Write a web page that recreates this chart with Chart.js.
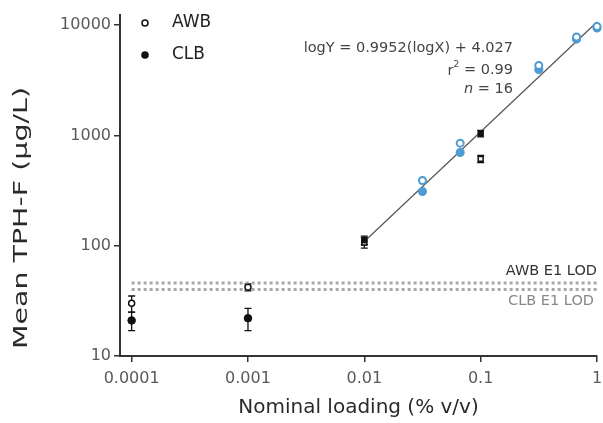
<!DOCTYPE html>
<html><head><meta charset="utf-8">
<script src="https://cdn.jsdelivr.net/npm/chart.js@4.4.0/dist/chart.umd.min.js"></script>
<style>html,body{margin:0;padding:0;background:#fff;}#wrap{width:603px;height:423px;position:relative;}</style>
</head><body><div id="wrap"><canvas id="c" width="603" height="423"></canvas></div>
<script>
// ---- data ----
const xTicks = [0.0001, 0.001, 0.01, 0.1, 1];
const xTickLabels = ['0.0001', '0.001', '0.01', '0.1', '1'];
const yTicks = [10, 100, 1000, 10000];
const yTickLabels = ['10', '100', '1000', '10000'];

// AWB E1 (open black circles)
const awbX = [0.0001, 0.001];
const awbY = [30, 42];
const awbErr = [5, 3];
// CLB E1 (filled black circles)
const clbX = [0.0001, 0.001];
const clbY = [21, 22];
const clbErr = [4, 5];
// AWB open black squares
const awbSqX = [0.01, 0.1];
const awbSqY = [107, 612];
const awbSqErr = [12, 45];
// CLB filled black squares
const clbSqX = [0.01, 0.1];
const clbSqY = [112, 1040];
const clbSqErr = [10, 70];
// blue open circles
const blueOpenX = [0.0316, 0.0667, 0.316, 0.667, 1];
const blueOpenY = [390, 850, 4300, 7800, 9700];
// blue filled circles
const blueFillX = [0.0316, 0.0667, 0.316, 0.667, 1];
const blueFillY = [310, 700, 3950, 7450, 9400];
// regression line end points
const fitX = [0.01, 1];
const fitY = [109, 10640];
// limits of detection
const lodX = [0.0001, 1];
const awbLod = 46;
const clbLod = 40;

const pts = (xs, ys) => xs.map((x, i) => ({x, y: ys[i]}));
const BLUE = '#4f9bd3';
const FONT = "'DejaVu Sans', 'Liberation Sans', sans-serif";

const errorSets = [
  {xs: awbX, ys: awbY, e: awbErr},
  {xs: clbX, ys: clbY, e: clbErr},
  {xs: awbSqX, ys: awbSqY, e: awbSqErr},
  {xs: clbSqX, ys: clbSqY, e: clbSqErr}
];

const errorBars = {
  id: 'errorBars',
  beforeDatasetsDraw(chart) {
    const {ctx, scales: {x, y}} = chart;
    ctx.save();
    ctx.strokeStyle = '#111';
    ctx.lineWidth = 1.3;
    errorSets.forEach(s => {
      s.xs.forEach((xv, i) => {
        const px = x.getPixelForValue(xv);
        const top = y.getPixelForValue(s.ys[i] + s.e[i]);
        const bot = y.getPixelForValue(s.ys[i] - s.e[i]);
        ctx.beginPath();
        ctx.moveTo(px, top); ctx.lineTo(px, bot);
        ctx.moveTo(px - 3.5, top); ctx.lineTo(px + 3.5, top);
        ctx.moveTo(px - 3.5, bot); ctx.lineTo(px + 3.5, bot);
        ctx.stroke();
      });
    });
    ctx.restore();
  }
};

const annotations = {
  id: 'annotations',
  afterDraw(chart) {
    const {ctx, scales: {x, y}} = chart;
    ctx.save();
    // y axis title (drawn here so it can be stretched like the reference)
    ctx.save();
    ctx.translate(22, 218);
    ctx.rotate(-Math.PI / 2);
    ctx.font = '19px ' + FONT;
    const tw = ctx.measureText('Mean TPH-F (µg/L)').width;
    ctx.scale(262 / tw, 1);
    ctx.fillStyle = '#2a2a2a'; ctx.textAlign = 'center'; ctx.textBaseline = 'middle';
    ctx.fillText('Mean TPH-F (µg/L)', 0, 0);
    ctx.restore();
    // legend
    ctx.fillStyle = '#fff'; ctx.strokeStyle = '#111'; ctx.lineWidth = 1.5;
    ctx.beginPath(); ctx.arc(145, 23, 3, 0, Math.PI * 2); ctx.fill(); ctx.stroke();
    ctx.fillStyle = '#111';
    ctx.beginPath(); ctx.arc(145, 55, 3.8, 0, Math.PI * 2); ctx.fill();
    ctx.font = '17px ' + FONT; ctx.fillStyle = '#222';
    ctx.textBaseline = 'middle'; ctx.textAlign = 'left';
    ctx.fillText('AWB', 172, 23);
    ctx.fillText('CLB', 172, 55);
    // equation
    ctx.textAlign = 'right'; ctx.font = '14.5px ' + FONT; ctx.fillStyle = '#444';
    ctx.fillText('logY = 0.9952(logX) + 4.027', 513, 48);
    ctx.fillText('= 0.99', 513, 70);
    const w1 = ctx.measureText('= 0.99 ').width;
    ctx.fillText('r', 513 - w1 - 6, 71);
    ctx.font = '9px ' + FONT; ctx.fillText('2', 513 - w1, 65);
    ctx.font = '14.5px ' + FONT;
    ctx.fillText('= 16', 513, 89);
    const w2 = ctx.measureText('= 16 ').width;
    ctx.font = 'italic 14.5px ' + FONT;
    ctx.fillText('n', 513 - w2, 89);
    // LOD labels
    ctx.font = '14.5px ' + FONT;
    ctx.fillStyle = '#333';
    ctx.fillText('AWB E1 LOD', 597, y.getPixelForValue(awbLod) - 12);
    ctx.fillStyle = '#888';
    ctx.fillText('CLB E1 LOD', 594, y.getPixelForValue(clbLod) + 12);
    ctx.restore();
  }
};

new Chart(document.getElementById('c'), {
  type: 'scatter',
  data: {
    datasets: [
      {data: pts(lodX, [awbLod, awbLod]), showLine: true, borderColor: '#a8a8a8', borderWidth: 3, borderDash: [3, 3], pointRadius: 0, order: 10},
      {data: pts(lodX, [clbLod, clbLod]), showLine: true, borderColor: '#a8a8a8', borderWidth: 3, borderDash: [3, 3], pointRadius: 0, order: 10},
      {data: pts(fitX, fitY), showLine: true, borderColor: '#555', borderWidth: 1.2, pointRadius: 0, order: 9},
      {data: pts(blueFillX, blueFillY), pointStyle: 'circle', pointRadius: 3.8, backgroundColor: BLUE, borderColor: BLUE, borderWidth: 1.5, order: 5},
      {data: pts(blueOpenX, blueOpenY), pointStyle: 'circle', pointRadius: 3.5, backgroundColor: '#fff', borderColor: BLUE, borderWidth: 2, order: 4},
      {data: pts(awbX, awbY), pointStyle: 'circle', pointRadius: 3, backgroundColor: '#fff', borderColor: '#111', borderWidth: 1.5, order: 3},
      {data: pts(clbX, clbY), pointStyle: 'circle', pointRadius: 3.8, backgroundColor: '#111', borderColor: '#111', borderWidth: 1, order: 2},
      {data: pts(awbSqX, awbSqY), pointStyle: 'rect', pointRadius: 3.5, backgroundColor: '#fff', borderColor: '#111', borderWidth: 1.5, order: 3},
      {data: pts(clbSqX, clbSqY), pointStyle: 'rect', pointRadius: 3.8, backgroundColor: '#111', borderColor: '#111', borderWidth: 1, order: 2}
    ].map(d => Object.assign(d, {clip: false}))
  },
  options: {
    responsive: false, animation: false,
    layout: {padding: {top: 15, right: 2, left: 0, bottom: 0}},
    plugins: {legend: {display: false}, tooltip: {enabled: false}},
    scales: {
      x: {
        type: 'logarithmic', min: Math.pow(10, -4.1), max: 1,
        afterBuildTicks: s => { s.ticks = xTicks.map(v => ({value: v})); },
        afterFit: s => { s.height = 67; s.paddingRight = 0; s.paddingLeft = 0; },
        ticks: {autoSkip: false, maxRotation: 0, color: '#5a5a5a', font: {family: FONT, size: 16}, padding: 7,
          callback: (v) => xTickLabels[xTicks.indexOf(v)] ?? ''},
        grid: {drawOnChartArea: false, drawTicks: true, tickLength: 6, color: '#333', lineWidth: 1.5},
        border: {display: true, color: '#333', width: 2},
        title: {display: true, text: 'Nominal loading (% v/v)', color: '#2a2a2a', font: {family: FONT, size: 20}, padding: {top: 4, bottom: 3}}
      },
      y: {
        type: 'logarithmic', min: 10, max: Math.pow(10, 4 + 10 / 110),
        afterBuildTicks: s => { s.ticks = yTicks.map(v => ({value: v})); },
        afterFit: s => { s.width = 120; s.paddingTop = 0; s.paddingBottom = 0; },
        ticks: {autoSkip: false, color: '#5a5a5a', font: {family: FONT, size: 16}, padding: 3,
          callback: (v) => yTickLabels[yTicks.indexOf(v)] ?? ''},
        grid: {drawOnChartArea: false, drawTicks: true, tickLength: 6, color: '#333', lineWidth: 1.5},
        border: {display: true, color: '#333', width: 2},
        title: {display: false}
      }
    }
  },
  plugins: [errorBars, annotations]
});
</script></body></html>
